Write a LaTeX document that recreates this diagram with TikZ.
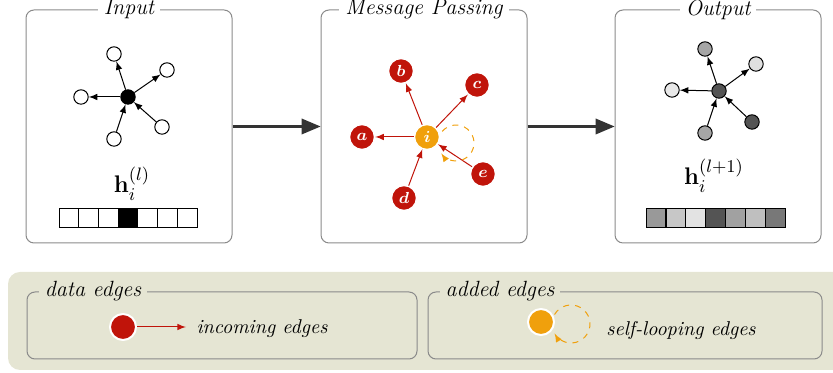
\documentclass[tikz,border=0pt]{standalone}
\usepackage{amsmath}
\usepackage{amssymb}
\usepackage{tikz}
\usetikzlibrary{arrows}

\definecolor{msgred}{HTML}{C0140A}
\definecolor{looporange}{HTML}{F0A00C}
\definecolor{legendbg}{HTML}{E5E5D3}
\definecolor{boxgray}{HTML}{8A8A8A}
\definecolor{flowgray}{HTML}{333333}

\begin{document}
\begin{tikzpicture}[x=0.5pt,y=0.5pt,
    panel/.style={draw=boxgray, line width=0.5pt, rounded corners=4pt, inner sep=0pt},
    paneltitle/.style={fill=white, inner xsep=3pt, inner ysep=1pt, font=\itshape\fontsize{11}{13}\selectfont},
    graynode/.style={circle, draw=black, line width=0.5pt, fill=#1, minimum size=7.2pt, inner sep=0pt},
    rednode/.style={circle, fill=msgred, draw=white, line width=0.7pt, minimum size=12.5pt, inner sep=0pt,
      text=white, font=\bfseries\itshape\fontsize{8}{9}\selectfont},
    orangenode/.style={rednode, fill=looporange},
    plainedge/.style={-latex, line width=0.5pt},
    rededge/.style={-latex, msgred, line width=0.5pt},
    loopedge/.style={-latex, looporange, dashed, line width=0.5pt},
    flowedge/.style={-triangle 45, flowgray, line width=1.2pt},
    cell/.style={draw=black, line width=0.4pt, minimum width=9.9pt, minimum height=9.8pt, inner sep=0pt},
    legendtext/.style={font=\itshape\fontsize{10}{12}\selectfont}]
  \useasboundingbox (0,0) rectangle (833,373);

  % the three panels
  \node[panel, minimum width=103pt, minimum height=116.5pt] (inbox) at (129,246.5) {};
  \node[panel, minimum width=103pt, minimum height=116.5pt] (mpbox) at (424,246.5) {};
  \node[panel, minimum width=103pt, minimum height=116.5pt] (outbox) at (718,246.5) {};
  \node[paneltitle] at (inbox.north) {Input};
  \node[paneltitle] at (mpbox.north) {Message Passing};
  \node[paneltitle] at (outbox.north) {Output};
  \draw[flowedge] (inbox.east) -- (mpbox.west);
  \draw[flowedge] (mpbox.east) -- (outbox.west);

  % input graph
  \node[graynode=black] (inc) at (128,276) {};
  \node[graynode=white] (inup) at (114,319) {};
  \node[graynode=white] (inri) at (167,303) {};
  \node[graynode=white] (inle) at (81,276) {};
  \node[graynode=white] (inlr) at (162,246) {};
  \node[graynode=white] (inbo) at (114,234) {};
  \draw[plainedge] (inc) -- (inup);
  \draw[plainedge] (inc) -- (inri);
  \draw[plainedge] (inc) -- (inle);
  \draw[plainedge] (inlr) -- (inc);
  \draw[plainedge] (inbo) -- (inc);
  \node[anchor=base, font=\fontsize{13}{15}\selectfont] (hin) at (132,180) {$\mathbf{h}_i^{(l)}$};
  \foreach \c [count=\k] in {white,white,white,black,white,white,white}
    \node[cell, fill=\c] (hin\k) at ({59+19.71*(\k-0.5)},155) {};

  % message passing
  \node[orangenode] (mi) at (427,236) {$\boldsymbol{i}$};
  \node[rednode] (ma) at (362,236) {$\boldsymbol{a}$};
  \node[rednode] (mb) at (401,302) {$\boldsymbol{b}$};
  \node[rednode] (mc) at (477,288) {$\boldsymbol{c}$};
  \node[rednode] (md) at (404,175) {$\boldsymbol{d}$};
  \node[rednode] (me) at (483,199) {$\boldsymbol{e}$};
  \draw[rededge] (mi) -- (ma);
  \draw[rededge] (mi) -- (mb);
  \draw[rededge] (mi) -- (mc);
  \draw[rededge] (md) -- (mi);
  \draw[rededge] (me) -- (mi);
  \coordinate (mloop) at (456,230);
  \draw[loopedge] ([shift={(140:18)}]mloop) arc[start angle=140, end angle=-145, radius=18];

  % output graph
  \node[graynode=black!67] (outc) at (719,282) {};
  \node[graynode=black!35] (outup) at (705,324) {};
  \node[graynode=black!12] (outri) at (756,309) {};
  \node[graynode=black!9] (outle) at (672,283) {};
  \node[graynode=black!67] (outlr) at (752,251) {};
  \node[graynode=black!35] (outbo) at (705,240) {};
  \draw[plainedge] (outc) -- (outup);
  \draw[plainedge] (outc) -- (outri);
  \draw[plainedge] (outc) -- (outle);
  \draw[plainedge] (outlr) -- (outc);
  \draw[plainedge] (outbo) -- (outc);
  \node[anchor=base, font=\fontsize{13}{15}\selectfont] (hout) at (714,188) {$\mathbf{h}_i^{(l+1)}$};
  \foreach \c [count=\k] in {black!40,black!22,black!11,black!67,black!37,black!25,black!53}
    \node[cell, fill=\c] (hout\k) at ({646+19.86*(\k-0.5)},155) {};

  % legend
  \fill[legendbg, rounded corners=6pt] (8,3) rectangle (850,101);
  \node[panel, minimum width=195pt, minimum height=33.5pt] (databox) at (222,47.5) {};
  \node[panel, minimum width=197pt, minimum height=33.5pt] (addbox) at (625,47.5) {};
  \node[paneltitle, fill=legendbg] at ([xshift=-64.5pt]databox.north) {data edges};
  \node[paneltitle, fill=legendbg] at ([xshift=-62.5pt]addbox.north) {added edges};
  \node[rednode, minimum size=13pt, line width=1pt] (lred) at (123,46) {};
  \coordinate (lredend) at (186,46);
  \draw[rededge] (lred) -- (lredend);
  \node[legendtext] at (262,44) {incoming edges};
  \node[orangenode, minimum size=13pt, line width=1pt] (lorange) at (541,51) {};
  \coordinate (lloop) at (571,49);
  \draw[loopedge] ([shift={(150:19)}]lloop) arc[start angle=150, end angle=-150, radius=19];
  \node[legendtext] at (681,42) {self-looping edges};
\end{tikzpicture}
\end{document}
